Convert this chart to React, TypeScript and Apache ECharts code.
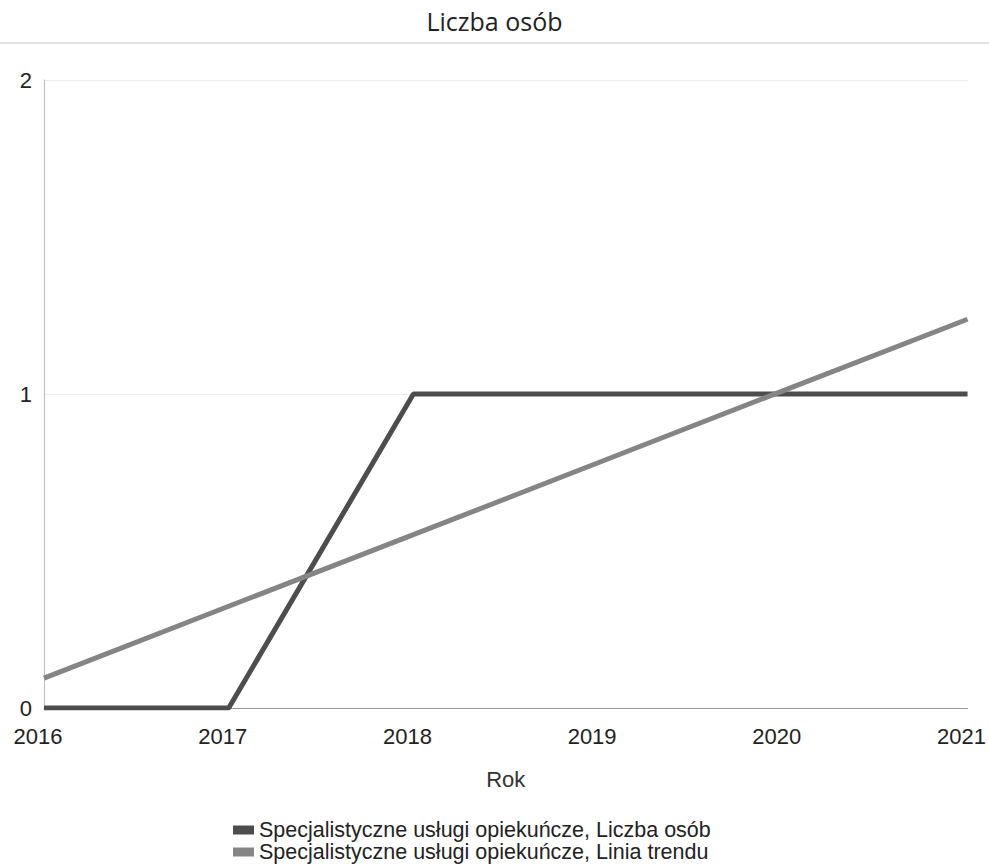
import React, { useEffect, useRef } from "react";
import * as echarts from "echarts";

const years = ["2016", "2017", "2018", "2019", "2020", "2021"];
const liczbaOsob = [0, 0, 1, 1, 1, 1];
const liniaTrendu = [0.095, 0.324, 0.552, 0.781, 1.01, 1.238];
const seriesNames = [
  "Specjalistyczne usługi opiekuńcze, Liczba osób",
  "Specjalistyczne usługi opiekuńcze, Linia trendu",
];
const yTicks = [0, 1, 2];

export default function App() {
  const ref = useRef<HTMLDivElement>(null);
  useEffect(() => {
    const chart = echarts.init(ref.current!, null, { renderer: "svg" });
    const titleFont = "'Open Sans', 'DejaVu Sans', sans-serif";
    const font = "'Liberation Sans', Arial, sans-serif";
    const legendBase = {
      orient: "horizontal",
      left: 233,
      padding: 0,
      itemWidth: 21,
      itemHeight: 9,
      icon: "rect",
      textStyle: { fontFamily: font, fontSize: 21.5, color: "#222" },
    };
    chart.setOption({
      animation: false,
      backgroundColor: "#ffffff",
      title: {
        text: "Liczba osób",
        left: "center",
        top: 3,
        textStyle: { fontFamily: titleFont, fontSize: 25, fontWeight: "normal", color: "#222" },
      },
      graphic: [
        {
          type: "line",
          shape: { x1: 0, y1: 43, x2: 989, y2: 43 },
          style: { stroke: "#e2e2e2", lineWidth: 2 },
        },
      ],
      legend: [
        { ...legendBase, top: 819, data: [seriesNames[0]] },
        { ...legendBase, top: 841, data: [seriesNames[1]] },
      ],
      grid: { left: 44, right: 21, top: 80, bottom: 160 },
      xAxis: {
        type: "category",
        data: years,
        boundaryGap: false,
        name: "Rok",
        nameLocation: "middle",
        nameGap: 60,
        nameTextStyle: { fontFamily: font, fontSize: 22, color: "#333" },
        axisLine: { lineStyle: { color: "#999", width: 1 } },
        axisTick: { show: false },
        axisLabel: {
          fontFamily: font,
          fontSize: 22,
          color: "#222",
          margin: 17,
          padding: [0, 12, 0, 0],
          interval: 0,
        },
        splitLine: { show: false },
      },
      yAxis: {
        type: "value",
        min: yTicks[0],
        max: yTicks[yTicks.length - 1],
        interval: 1,
        axisLine: { show: true, lineStyle: { color: "#bbb", width: 1 } },
        axisTick: { show: false },
        axisLabel: { fontFamily: font, fontSize: 22, color: "#222", margin: 12 },
        splitLine: { show: true, lineStyle: { color: "#ececec", width: 1 } },
      },
      series: [
        {
          name: seriesNames[0],
          type: "line",
          data: liczbaOsob,
          symbol: "none",
          lineStyle: { color: "#4d4d4d", width: 5 },
          itemStyle: { color: "#4d4d4d" },
        },
        {
          name: seriesNames[1],
          type: "line",
          data: liniaTrendu,
          symbol: "none",
          lineStyle: { color: "#858585", width: 5 },
          itemStyle: { color: "#858585" },
        },
      ],
    });
    return () => chart.dispose();
  }, []);
  return <div ref={ref} style={{ width: 989, height: 868, position: "absolute", left: 0, top: 0 }} />;
}
